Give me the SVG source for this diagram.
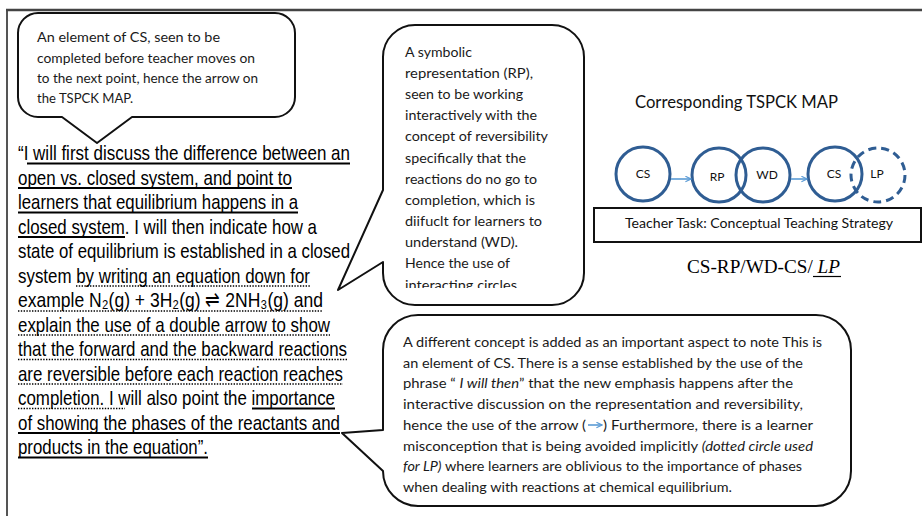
<svg xmlns="http://www.w3.org/2000/svg" width="922" height="516" viewBox="0 0 922 516">
<style>
.callout{fill:#fff;stroke:#111;stroke-width:2;stroke-linejoin:round}
.ct{font-family:Lato,"Open Sans","Liberation Sans",sans-serif;font-size:13.5px;fill:#1a1a1a}
.mt{font-family:"Liberation Sans",Arial,sans-serif;font-size:21px;fill:#000}
.ul{stroke:#000;stroke-width:1.8}
.dl{stroke:#000;stroke-width:1.6;stroke-dasharray:1.4 1.4}
.circ{fill:none;stroke:#2f5d93;stroke-width:3}
.lbl{font-family:Lato,"Open Sans","Liberation Sans",sans-serif;font-size:12px;fill:#111;text-anchor:middle}
.arr{stroke:#5b9bd5;stroke-width:1.6;fill:none}
</style>
<defs>
<marker id="ah" viewBox="0 0 10 10" refX="9" refY="5" markerWidth="7" markerHeight="7" orient="auto" markerUnits="userSpaceOnUse">
<path d="M1,1 L9,5 L1,9" fill="none" stroke="#5b9bd5" stroke-width="1.6"/>
</marker>
<clipPath id="rpclip"><rect x="383" y="25" width="201" height="263"/></clipPath>
</defs>
<rect x="0" y="0" width="922" height="516" fill="#fff"/>
<g id="frame">
<line x1="7" y1="10" x2="7" y2="516" stroke="#555" stroke-width="2"/>
<line x1="6" y1="10" x2="922" y2="10" stroke="#444" stroke-width="2.5"/>
</g>

<g id="callout-cs">
<path class="callout" d="M38,13 H275 A20 20 0 0 1 295,33 V97 A20 20 0 0 1 275,117 H132 L97,143 L62,117 H38 A20 20 0 0 1 18,97 V33 A20 20 0 0 1 38,13 Z"/>
<text class="ct" x="37" y="42" textLength="183" lengthAdjust="spacingAndGlyphs">An element of CS, seen to be</text>
<text class="ct" x="37" y="62.5" textLength="218" lengthAdjust="spacingAndGlyphs">completed before teacher moves on</text>
<text class="ct" x="37" y="83" textLength="221" lengthAdjust="spacingAndGlyphs">to the next point, hence the arrow on</text>
<text class="ct" x="37" y="103" textLength="96" lengthAdjust="spacingAndGlyphs">the TSPCK MAP.</text>
</g>

<g id="callout-rp">
<path class="callout" d="M415,25 H552 A32 32 0 0 1 584,57 V273 A32 32 0 0 1 552,305 H415 A32 32 0 0 1 383,273 V262 L338,290 L383,190 V57 A32 32 0 0 1 415,25 Z"/>
<g clip-path="url(#rpclip)">
<text class="ct" x="405" y="57" textLength="67" lengthAdjust="spacingAndGlyphs">A symbolic</text>
<text class="ct" x="405" y="78.1" textLength="128" lengthAdjust="spacingAndGlyphs">representation (RP),</text>
<text class="ct" x="405" y="99.2" textLength="118" lengthAdjust="spacingAndGlyphs">seen to be working</text>
<text class="ct" x="405" y="120.3" textLength="132" lengthAdjust="spacingAndGlyphs">interactively with the</text>
<text class="ct" x="405" y="141.4" textLength="143" lengthAdjust="spacingAndGlyphs">concept of reversibility</text>
<text class="ct" x="405" y="162.5" textLength="121" lengthAdjust="spacingAndGlyphs">specifically that the</text>
<text class="ct" x="405" y="183.6" textLength="132" lengthAdjust="spacingAndGlyphs">reactions do no go to</text>
<text class="ct" x="405" y="204.7" textLength="130" lengthAdjust="spacingAndGlyphs">completion, which is</text>
<text class="ct" x="405" y="225.8" textLength="137" lengthAdjust="spacingAndGlyphs">diifuclt for learners to</text>
<text class="ct" x="405" y="246.9" textLength="113" lengthAdjust="spacingAndGlyphs">understand (WD).</text>
<text class="ct" x="405" y="268" textLength="105" lengthAdjust="spacingAndGlyphs">Hence the use of</text>
<text class="ct" x="405" y="290" textLength="112" lengthAdjust="spacingAndGlyphs">interacting circles</text>
</g>
</g>

<g id="callout-concept">
<path class="callout" d="M418,315 H816 A35 35 0 0 1 851,350 V471 A35 35 0 0 1 816,506 H418 A35 35 0 0 1 383,471 L342,433 L383,430 V350 A35 35 0 0 1 418,315 Z"/>
<text class="ct" x="403" y="347" textLength="419" lengthAdjust="spacingAndGlyphs">A different concept is added as an important aspect to note This is</text>
<text class="ct" x="403" y="367.7" textLength="400" lengthAdjust="spacingAndGlyphs">an element of CS.  There is a sense  established by the use of the</text>
<text class="ct" x="403" y="388.4" textLength="390" lengthAdjust="spacingAndGlyphs">phrase “ <tspan font-style="italic">I will then</tspan>”  that the new emphasis happens after the</text>
<text class="ct" x="403" y="409.1" textLength="400" lengthAdjust="spacingAndGlyphs">interactive discussion  on the representation and  reversibility,</text>
<text class="ct" x="403" y="429.8" textLength="183" lengthAdjust="spacingAndGlyphs">hence the  use of the arrow (</text>
<line class="arr" x1="588" y1="425" x2="602" y2="425" marker-end="url(#ah)"/>
<text class="ct" x="603" y="429.8" textLength="210" lengthAdjust="spacingAndGlyphs">) Furthermore,  there is a learner</text>
<text class="ct" x="403" y="450.5" textLength="410" lengthAdjust="spacingAndGlyphs">misconception that is being avoided implicitly <tspan font-style="italic">(dotted circle  used</tspan></text>
<text class="ct" x="403" y="471.2" textLength="399" lengthAdjust="spacingAndGlyphs"><tspan font-style="italic">for LP)</tspan> where learners are oblivious to the importance of  phases</text>
<text class="ct" x="403" y="491.9" textLength="329" lengthAdjust="spacingAndGlyphs">when dealing with reactions at chemical equilibrium.</text>
</g>

<g id="main-quote">
<text class="mt" x="18" y="160" textLength="332" lengthAdjust="spacingAndGlyphs">“I will first discuss the difference between an</text>
<text class="mt" x="18" y="184.5" textLength="274" lengthAdjust="spacingAndGlyphs">open vs. closed system, and point to</text>
<text class="mt" x="18" y="209" textLength="280" lengthAdjust="spacingAndGlyphs">learners that equilibrium happens in a</text>
<text class="mt" x="18" y="233.5" textLength="299" lengthAdjust="spacingAndGlyphs">closed system. I will then indicate how a</text>
<text class="mt" x="18" y="258" textLength="332" lengthAdjust="spacingAndGlyphs">state of equilibrium is established in a closed</text>
<text class="mt" x="18" y="282.5" textLength="292" lengthAdjust="spacingAndGlyphs">system by writing an equation down for</text>
<text class="mt" x="18" y="307" textLength="305" lengthAdjust="spacingAndGlyphs">example N₂(g) + 3H₂(g)  ⇌  2NH₃(g) and</text>
<text class="mt" x="18" y="331.5" textLength="312" lengthAdjust="spacingAndGlyphs">explain the use of a double arrow to show</text>
<text class="mt" x="18" y="356" textLength="329" lengthAdjust="spacingAndGlyphs">that the forward and the backward reactions</text>
<text class="mt" x="18" y="380.5" textLength="325" lengthAdjust="spacingAndGlyphs">are reversible before each reaction reaches</text>
<text class="mt" x="18" y="405" textLength="317" lengthAdjust="spacingAndGlyphs">completion. I will also point the importance</text>
<text class="mt" x="18" y="429.5" textLength="322" lengthAdjust="spacingAndGlyphs">of showing the phases of the reactants and</text>
<text class="mt" x="18" y="454" textLength="190" lengthAdjust="spacingAndGlyphs">products in the equation”.</text>
<line class="ul" x1="27" y1="163.5" x2="350" y2="163.5"/>
<line class="ul" x1="18" y1="188" x2="292" y2="188"/>
<line class="ul" x1="18" y1="212.5" x2="298" y2="212.5"/>
<line class="ul" x1="18" y1="237" x2="125" y2="237"/>
<line class="dl" x1="76" y1="286" x2="310" y2="286"/>
<line class="dl" x1="18" y1="311" x2="323" y2="311"/>
<line class="dl" x1="18" y1="335" x2="330" y2="335"/>
<line class="dl" x1="18" y1="359.5" x2="347" y2="359.5"/>
<line class="dl" x1="18" y1="384" x2="343" y2="384"/>
<line class="dl" x1="18" y1="408.5" x2="125" y2="408.5"/>
<line class="ul" x1="252" y1="408.5" x2="335" y2="408.5"/>
<line class="ul" x1="18" y1="433" x2="340" y2="433"/>
<line class="ul" x1="18" y1="457.5" x2="208" y2="457.5" stroke-width="2.2"/>
</g>

<g id="tspck-title">
<text x="635" y="108" font-family="Lato,'Open Sans','Liberation Sans',sans-serif" font-size="17" fill="#111" textLength="203" lengthAdjust="spacingAndGlyphs">Corresponding TSPCK MAP</text>
</g>
<g id="node-cs1">
<circle class="circ" cx="643" cy="174" r="27"/>
<text class="lbl" x="643" y="178">CS</text>
</g>
<g id="node-rp">
<circle class="circ" cx="719" cy="175" r="27"/>
<text class="lbl" x="717" y="181">RP</text>
</g>
<g id="node-wd">
<circle class="circ" cx="763" cy="175" r="27"/>
<text class="lbl" x="767" y="179">WD</text>
</g>
<g id="node-cs2">
<circle class="circ" cx="835" cy="174" r="27"/>
<text class="lbl" x="834" y="178">CS</text>
</g>
<g id="node-lp">
<circle class="circ" cx="878" cy="175" r="27" stroke-dasharray="8 5"/>
<text class="lbl" x="877" y="178">LP</text>
</g>
<g id="connectors">
<line class="arr" x1="671" y1="179" x2="691" y2="179" marker-end="url(#ah)"/>
<line class="arr" x1="791" y1="179" x2="807" y2="179" marker-end="url(#ah)"/>
</g>
<g id="teacher-task">
<rect x="594" y="208" width="327" height="34" fill="#fff" stroke="#111" stroke-width="2"/>
<text x="625" y="228" font-family="Lato,'Open Sans','Liberation Sans',sans-serif" font-size="14" fill="#111" textLength="268" lengthAdjust="spacingAndGlyphs">Teacher Task:  Conceptual Teaching Strategy</text>
</g>
<g id="map-code">
<text x="687" y="273" font-family="'Liberation Serif','Times New Roman',serif" font-size="18" fill="#000" textLength="153" lengthAdjust="spacingAndGlyphs">CS-RP/WD-CS/ <tspan font-style="italic">LP</tspan></text>
<line x1="813" y1="276.5" x2="841" y2="276.5" stroke="#000" stroke-width="1.2"/>
</g>
</svg>
